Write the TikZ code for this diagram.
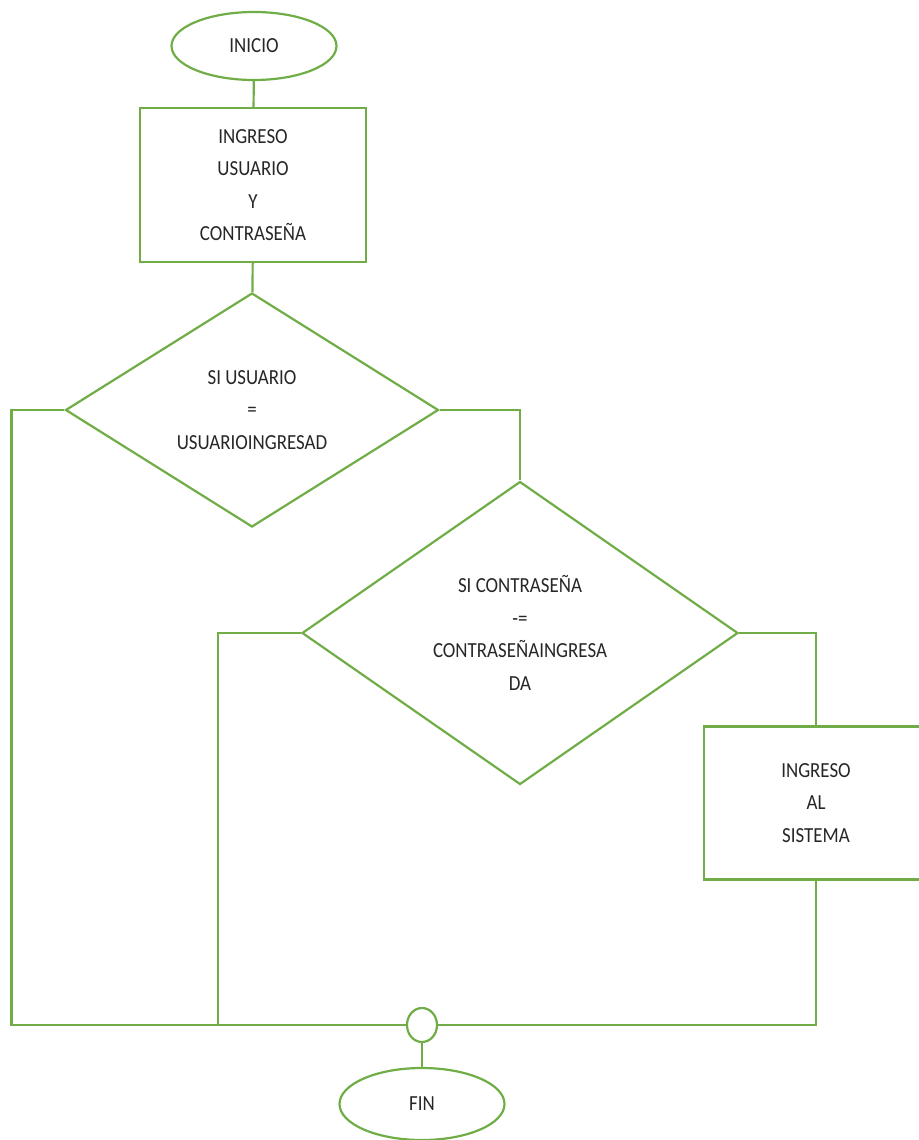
\documentclass[tikz,border=0pt]{standalone}
\usepackage{fontspec}
\setmainfont{Carlito}[FakeStretch=0.88]
\usetikzlibrary{shapes.geometric}
\definecolor{verde}{RGB}{112,173,71}
\begin{document}
\begin{tikzpicture}[x=1pt,y=-1pt,
  linea/.style={draw=verde, line width=2.2pt},
  texto/.style={font=\fontsize{21.5}{32.5}\selectfont, text=black!85, align=center},
  term/.style={linea, texto, ellipse, minimum width=165pt, minimum height=68pt, inner sep=0pt},
  caja/.style={linea, texto, rectangle, inner sep=0pt},
  deci/.style={linea, texto, diamond, inner sep=0pt}]
\useasboundingbox (0,0) rectangle (918,1140);
\node[term] (ini) at (254,46) {INICIO};
\node[caja, minimum width=226pt, minimum height=154pt] (ing) at (253,185) {INGRESO\\USUARIO\\Y\\CONTRASEÑA};
\node[deci, aspect=1.6, minimum width=373pt, minimum height=234pt] (usu) at (252,410) {SI USUARIO\\=\\USUARIOINGRESAD};
\node[deci, aspect=1.44, minimum width=436pt, minimum height=303pt] (con) at (520,633) {SI CONTRASEÑA\\-=\\CONTRASEÑAINGRESA\\DA};
\node[caja, minimum width=224pt, minimum height=153pt] (sis) at (816,803) {INGRESO\\AL\\SISTEMA};
\node[linea, ellipse, minimum width=30pt, minimum height=34pt, inner sep=0pt] (une) at (422,1025) {};
\node[term, minimum height=72pt] (fin) at (422,1104) {FIN};
\coordinate (rama) at (218,1025);
\draw[linea] (ini) -- (ing);
\draw[linea] (ing) -- (usu);
\draw[linea] (usu.west) -- ++(-53,0) |- (une.west);
\draw[linea] (usu.east) -| (con.north);
\draw[linea] (con.west) -| (rama);
\draw[linea] (con.east) -| (sis.north);
\draw[linea] (sis.south) |- (une.east);
\draw[linea] (une) -- (fin);
\end{tikzpicture}
\end{document}
